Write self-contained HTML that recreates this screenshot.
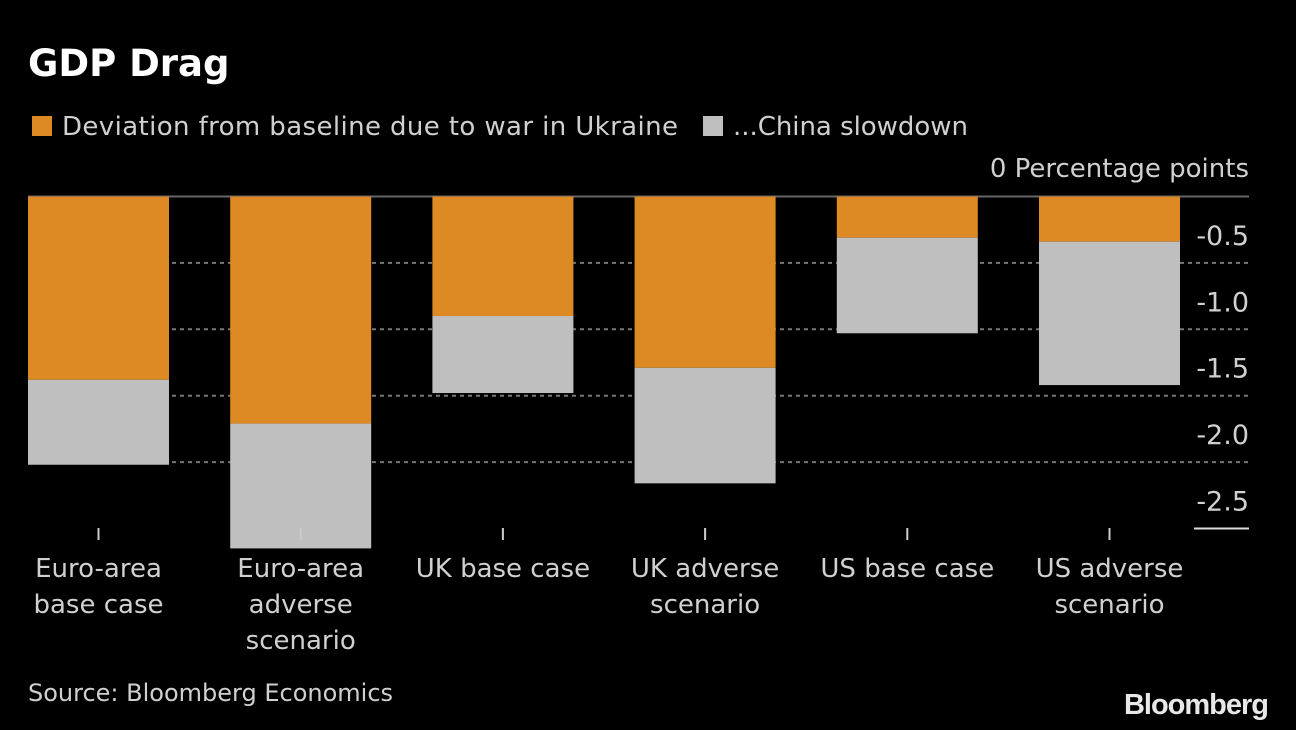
<!DOCTYPE html>
<html><head><meta charset="utf-8"><style>
body{margin:0;background:#000;width:1296px;height:730px;overflow:hidden;font-family:"DejaVu Sans","Liberation Sans",sans-serif;color:#d0d0d0}
</style></head><body>
<svg width="1296" height="730" style="position:absolute;left:0;top:0">
<text x="28" y="76" fill="#fff" font-size="37" font-weight="bold">GDP Drag</text>
<rect x="32" y="116" width="20" height="20" fill="#DD8A25"/>
<text x="62" y="135" fill="#d0d0d0" font-size="26" textLength="616">Deviation from baseline due to war in Ukraine</text>
<rect x="703" y="116" width="20" height="20" fill="#BFBFBF"/>
<text x="733" y="135" fill="#d0d0d0" font-size="26" textLength="235">...China slowdown</text>
<text x="1249" y="177" fill="#d0d0d0" font-size="26" text-anchor="end">0 Percentage points</text>
<g id="grid"></g><g id="bars"></g><g id="labels"></g>
<text x="28" y="701" fill="#d0d0d0" font-size="24">Source: Bloomberg Economics</text>
<text x="1268" y="714" fill="#e8e8e8" font-size="29" font-weight="bold" text-anchor="end" font-family="Liberation Sans, sans-serif" letter-spacing="-1">Bloomberg</text>
</svg>
<script>
const categories=[["Euro-area","base case"],["Euro-area","adverse","scenario"],["UK base case"],["UK adverse","scenario"],["US base case"],["US adverse","scenario"]];
const ukraine=[-1.38,-1.71,-0.90,-1.29,-0.31,-0.34];
const china=[-0.64,-0.94,-0.58,-0.87,-0.72,-1.08];
const ticks=[-0.5,-1.0,-1.5,-2.0,-2.5];
const NS="http://www.w3.org/2000/svg";
const y0=196.5,unit=132.8;
const y=v=>y0-v*unit;
const x=i=>28+i*202.2;
const bw=141;
function mk(t,a,p){const e=document.createElementNS(NS,t);for(const k in a)e.setAttribute(k,a[k]);p.appendChild(e);return e;}
const g=document.getElementById('grid'),b=document.getElementById('bars'),l=document.getElementById('labels');
ticks.forEach((t,i)=>{
  if(i<ticks.length-1){
    const ln=mk('line',{x1:28,x2:1249,y1:y(t),y2:y(t),stroke:'#777','stroke-width':2,'stroke-dasharray':'4 4'},g);
    
    
  } else {
    const ln=mk('line',{x1:1194,x2:1249,y1:y(t),y2:y(t),stroke:'#ddd','stroke-width':2},g);
    
    
  }
  const tx=mk('text',{x:1249,y:y(t)-18,fill:'#d0d0d0','font-size':27,'text-anchor':'end'},l);
  tx.textContent=t.toFixed(1);
  
  
});
const z=mk('line',{x1:28,x2:1249,y1:y0,y2:y0,stroke:'#666','stroke-width':2},g);


categories.forEach((c,i)=>{
  const r1=mk('rect',{x:x(i),y:y(0),width:bw,height:y(ukraine[i])-y(0),fill:'#DD8A25'},b);
  
  
  const r2=mk('rect',{x:x(i),y:y(ukraine[i]),width:bw,height:y(ukraine[i]+china[i])-y(ukraine[i]),fill:'#BFBFBF'},b);
  
  
  const cx=x(i)+bw/2;
  const tk=mk('line',{x1:cx,x2:cx,y1:528,y2:540,stroke:'#ccc','stroke-width':2},l);
  
  
  c.forEach((s,j)=>{
    const tx=mk('text',{x:cx,y:577+j*36,fill:'#d0d0d0','font-size':26,'text-anchor':'middle'},l);
    tx.textContent=s;
    
    
  });
});
</script>
</body></html>
